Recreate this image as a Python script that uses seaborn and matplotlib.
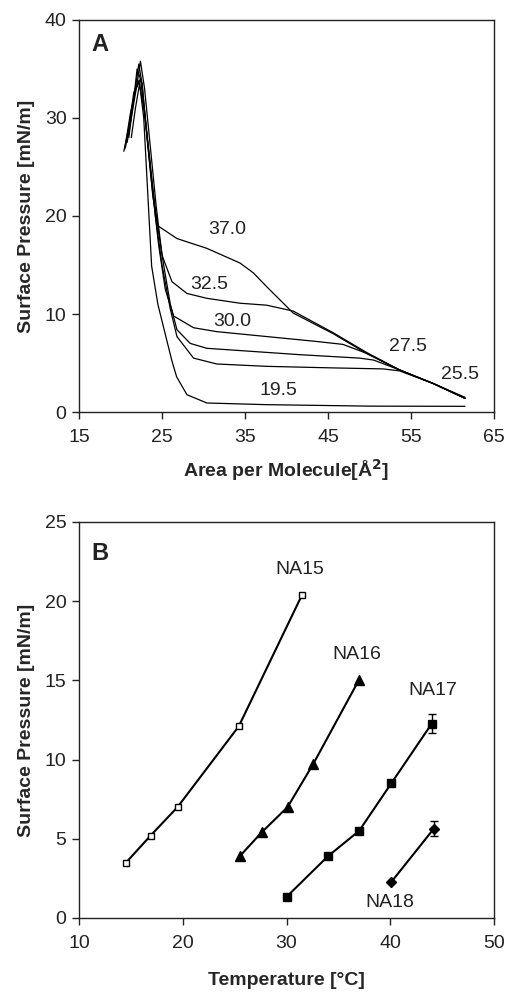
import numpy as np
import pandas as pd
import matplotlib
matplotlib.use("Agg")
import matplotlib.pyplot as plt
import seaborn as sns

# ---------------- Panel A data: isotherms (area, pressure) ----------------
temps_a = ["37.0", "32.5", "30.0", "27.5", "25.5", "19.5"]

x_370 = [20.6, 21.3, 21.8, 22.2, 22.6, 23.2, 23.9, 24.5, 26.8, 30.4, 34.4, 36.0, 37.6, 40.8, 45.6, 49.6, 53.6, 57.7, 61.5]
y_370 = [27.0, 30.5, 33.0, 35.5, 33.5, 28.0, 22.0, 19.0, 17.7, 16.7, 15.2, 14.2, 12.8, 10.1, 8.0, 6.0, 4.3, 2.9, 1.5]

x_325 = [20.8, 21.5, 22.0, 22.4, 22.9, 23.6, 24.3, 25.0, 26.2, 28.0, 30.4, 34.4, 37.6, 40.8, 45.6, 49.6, 53.6, 57.7, 61.5]
y_325 = [27.5, 31.0, 33.5, 35.8, 33.0, 27.0, 21.0, 16.0, 13.3, 12.1, 11.6, 11.1, 10.9, 10.3, 8.1, 6.1, 4.3, 2.9, 1.4]

x_300 = [21.0, 21.6, 22.0, 22.6, 23.2, 23.8, 24.6, 25.4, 26.4, 28.8, 31.6, 37.6, 43.6, 46.8, 49.6, 53.6, 57.7, 61.5]
y_300 = [28.0, 32.0, 35.0, 33.5, 28.0, 23.0, 17.0, 12.5, 9.8, 8.6, 8.2, 7.7, 7.2, 6.9, 6.0, 4.3, 2.9, 1.4]

x_275 = [20.5, 21.2, 21.8, 22.4, 23.0, 23.6, 24.3, 25.2, 26.0, 26.8, 28.4, 30.4, 35.6, 41.6, 48.8, 50.5, 53.6, 57.7, 61.5]
y_275 = [26.8, 30.5, 32.8, 34.0, 30.0, 25.0, 20.0, 15.0, 11.0, 8.4, 7.0, 6.5, 6.2, 5.85, 5.5, 5.3, 4.3, 2.9, 1.4]

x_255 = [20.4, 21.0, 21.6, 22.2, 22.8, 23.5, 24.2, 25.0, 26.0, 26.8, 28.8, 31.6, 37.6, 45.6, 51.6, 53.6, 57.7, 61.5]
y_255 = [26.6, 29.0, 32.6, 33.8, 31.0, 26.0, 20.0, 15.0, 10.5, 7.7, 5.5, 4.9, 4.66, 4.5, 4.4, 4.2, 2.9, 1.4]

x_195 = [21.3, 21.8, 22.3, 22.8, 23.75, 24.5, 25.55, 26.2, 26.76, 28.0, 30.4, 37.6, 50.0, 61.5]
y_195 = [28.0, 31.0, 33.5, 30.0, 14.9, 11.0, 7.4, 5.2, 3.6, 1.77, 0.92, 0.75, 0.6, 0.58]

label_x_a = [32.8, 30.65, 33.5, 54.6, 60.9, 39.0]
label_y_a = [18.6, 13.0, 9.25, 6.7, 3.8, 2.2]

# ---------------- Panel B data ----------------
na15_t = [14.5, 16.9, 19.5, 25.4, 31.5]
na15_p = [3.47, 5.2, 7.0, 12.1, 20.4]
na16_t = [25.5, 27.6, 30.1, 32.6, 37.0]
na16_p = [3.9, 5.4, 7.0, 9.75, 15.05]
na17_t = [30.0, 34.0, 37.0, 40.1, 44.0]
na17_p = [1.33, 3.9, 5.5, 8.5, 12.27]
na17_err = [0.0, 0.0, 0.0, 0.1, 0.58]
na18_t = [40.1, 44.2]
na18_p = [2.27, 5.64]
na18_err = [0.0, 0.45]

names_b = ["NA15", "NA16", "NA17", "NA18"]
label_x_b = [31.3, 36.75, 44.1, 40.0]
label_y_b = [22.0, 16.64, 14.37, 1.0]

# ---------------- Style ----------------
sns.set_style("ticks")
plt.rcParams["font.family"] = ["Liberation Sans", "DejaVu Sans"]
plt.rcParams["axes.edgecolor"] = "#222222"
plt.rcParams["xtick.color"] = "#222222"
plt.rcParams["ytick.color"] = "#222222"
plt.rcParams["text.color"] = "#222222"

fig = plt.figure(figsize=(5.08, 9.94), dpi=100)
axA = fig.add_axes([0.1555, 0.5855, 0.817, 0.3944])
axB = fig.add_axes([0.1555, 0.0765, 0.817, 0.3984])

fs = 14

# Panel A
curves = [(x_370, y_370), (x_325, y_325), (x_300, y_300),
          (x_275, y_275), (x_255, y_255), (x_195, y_195)]
for (xs, ys) in curves:
    df = pd.DataFrame({"area": xs, "pressure": ys})
    sns.lineplot(data=df, x="area", y="pressure", sort=False, estimator=None,
                 color="black", lw=0.9, ax=axA)
for t, lx, ly in zip(temps_a, label_x_a, label_y_a):
    axA.text(lx, ly, t, ha="center", va="center", fontsize=fs)

axA.set_xlim(15, 65)
axA.set_ylim(0, 40)
axA.set_xticks([15, 25, 35, 45, 55, 65])
axA.set_yticks([0, 10, 20, 30, 40])
axA.set_xlabel("Area per Molecule[Å$^{\\mathbf{2}}$]", fontsize=fs, fontweight="bold", labelpad=8)
axA.set_ylabel("Surface Pressure [mN/m]", fontsize=fs, fontweight="bold", labelpad=7)
axA.text(0.031, 0.9375, "A", transform=axA.transAxes, fontsize=17, fontweight="bold",
         ha="left", va="center")

# Panel B
series = [
    (na15_t, na15_p, None, "s", "white"),
    (na16_t, na16_p, None, "^", "black"),
    (na17_t, na17_p, na17_err, "s", "black"),
    (na18_t, na18_p, na18_err, "D", "black"),
]
msizes = [5, 6.5, 5.5, 5]
for (ts, ps, err, mk, fc), ms in zip(series, msizes):
    df = pd.DataFrame({"temp": ts, "press": ps})
    if err is not None:
        axB.errorbar(ts, ps, yerr=err, fmt="none", ecolor="black", elinewidth=1.0,
                     capsize=3, capthick=1.0, zorder=2)
    sns.lineplot(data=df, x="temp", y="press", sort=False, estimator=None,
                 color="black", lw=1.5, marker=mk, markersize=ms,
                 markerfacecolor=fc, markeredgecolor="black", markeredgewidth=1.0,
                 ax=axB, zorder=3)
for n, lx, ly in zip(names_b, label_x_b, label_y_b):
    axB.text(lx, ly, n, ha="center", va="center", fontsize=fs)

axB.set_xlim(10, 50)
axB.set_ylim(0, 25)
axB.set_xticks([10, 20, 30, 40, 50])
axB.set_yticks([0, 5, 10, 15, 20, 25])
axB.set_xlabel("Temperature [°C]", fontsize=fs, fontweight="bold", labelpad=15)
axB.set_ylabel("Surface Pressure [mN/m]", fontsize=fs, fontweight="bold", labelpad=7)
axB.text(0.031, 0.92, "B", transform=axB.transAxes, fontsize=17, fontweight="bold",
         ha="left", va="center")

for ax in (axA, axB):
    for s in ax.spines.values():
        s.set_visible(True)
        s.set_linewidth(1.0)
    ax.tick_params(direction="out", length=5, width=1.0, labelsize=fs)
    ax.tick_params(axis="x", pad=7)
    ax.tick_params(axis="y", pad=4)

fig.savefig("out.png", dpi=100)
